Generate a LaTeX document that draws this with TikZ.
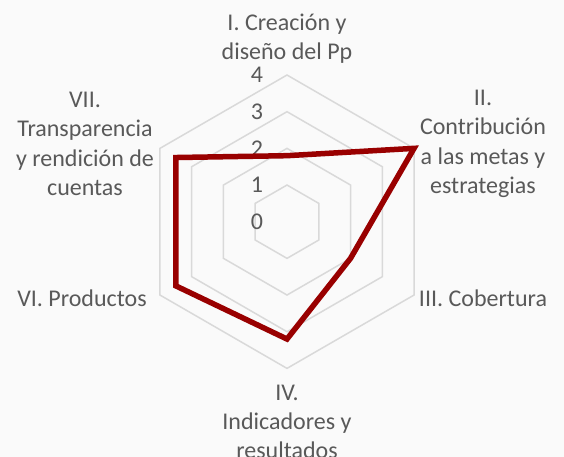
\documentclass[tikz,border=0pt]{standalone}
\usepackage{fontspec}
\setmainfont{Carlito}
\definecolor{labelgray}{RGB}{89,89,89}
\definecolor{gridgray}{RGB}{217,217,217}
\definecolor{serie}{RGB}{153,0,0}
\definecolor{fondo}{RGB}{250,250,250}
\tikzset{
    axislabel/.style={text=labelgray, align=center, inner sep=0pt,
        font=\fontsize{24}{29.3}\selectfont},
    ticklabel/.style={text=labelgray, inner sep=0pt,
        font=\fontsize{24}{29.3}\selectfont},
    gridline/.style={draw=gridgray, line width=1.5pt},
    serieline/.style={draw=serie, line width=5.5pt, line join=miter}
}
\begin{document}
\begin{tikzpicture}[x=1pt, y=1pt]
            \fill[fondo] (-287,-235.3) rectangle (277,221.7);
            \useasboundingbox (-287,-235.3) rectangle (277,221.7);

            % hexagon grid
            \foreach \r in {1,2,3,4} {
                \draw[gridline] (90:\r*36.67) -- (30:\r*36.67) -- (-30:\r*36.67)
                    -- (-90:\r*36.67) -- (-150:\r*36.67) -- (150:\r*36.67) -- cycle;
            }

            % scale
            \node[ticklabel] (t0) at (-30,0) {0};
            \node[ticklabel] (t1) at (-30,36.67) {1};
            \node[ticklabel] (t2) at (-30,73.33) {2};
            \node[ticklabel] (t3) at (-30,110) {3};
            \node[ticklabel] (t4) at (-30,146.67) {4};

            % values
            \coordinate (p1) at (90:1.8*36.67);
            \coordinate (p2) at (30:4*36.67);
            \coordinate (p3) at (-30:2*36.67);
            \coordinate (p4) at (-90:3.2*36.67);
            \coordinate (p6) at (-150:3.5*36.67);
            \coordinate (p7) at (150:3.5*36.67);
            \draw[serieline] (p1) -- (p2) -- (p3) -- (p4) -- (p6) -- (p7) -- cycle;

            % axis names
            \node[axislabel] (ax1) at (0,182.7) {I. Creación y\\diseño del Pp};
            \node[axislabel] (ax2) at (196,77.7) {II.\\Contribución\\a las metas y\\estrategias};
            \node[axislabel] (ax3) at (196,-76.3) {III. Cobertura};
            \node[axislabel] (ax4) at (0,-200.3) {IV.\\Indicadores y\\resultados};
            \node[axislabel] (ax6) at (-205,-76.3) {VI. Productos};
            \node[axislabel] (ax7) at (-202,77.7) {VII.\\Transparencia\\y rendición de\\cuentas};
        \end{tikzpicture}
\end{document}
